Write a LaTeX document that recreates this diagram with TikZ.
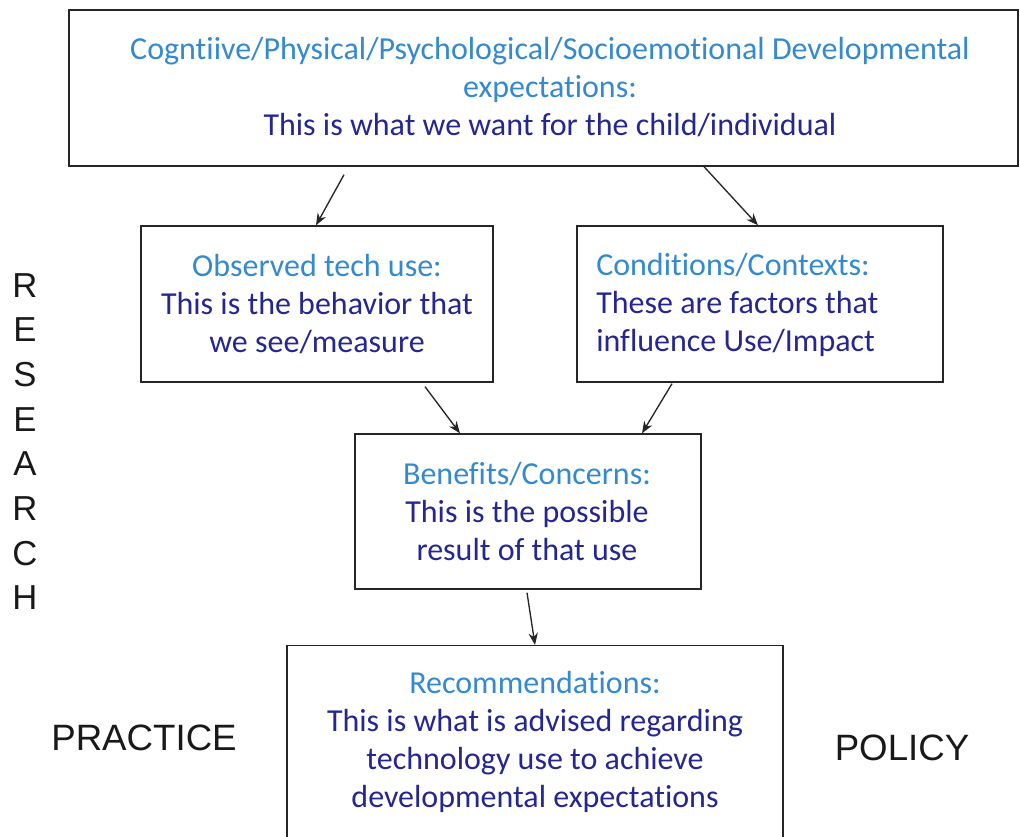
\documentclass[tikz,border=0pt]{standalone}
\usepackage{fontspec}
\setmainfont[Ligatures=NoCommon, Contextuals=NoAlternate, RawFeature={-clig;-dlig}]{Carlito}
\newfontfamily\labfont{Liberation Sans}
\usetikzlibrary{arrows.meta,calc}
\definecolor{lightb}{HTML}{3489CF}
\definecolor{darkb}{HTML}{262690}
\tikzset{
  box/.style={draw=black!85, line width=1pt, rectangle, inner sep=0pt},
  txt/.style={align=center, font=\fontsize{24}{28.5}\selectfont, text=darkb, inner sep=0pt},
  lab/.style={font=\labfont\fontsize{27.5}{30}\selectfont, text=black!90, inner sep=0pt},
  arr/.style={draw=black!85, line width=1pt, -{Stealth[length=9pt,width=7pt]}}
}
\begin{document}
\begin{tikzpicture}[x=0.75pt,y=-0.75pt]
\useasboundingbox[fill=white] (0,0) rectangle (1020,836);
\begin{scope}
\clip (0,0) rectangle (1020,836);
\node[box, minimum width=949*0.75pt, minimum height=156*0.75pt] (top) at (543.5,88) {};
\node[box, minimum width=352*0.75pt, minimum height=156*0.75pt] (obs) at (317,304) {};
\node[box, minimum width=366*0.75pt, minimum height=156*0.75pt] (cond) at (760,304) {};
\node[box, minimum width=346*0.75pt, minimum height=155*0.75pt] (ben) at (528,511.5) {};
\node[box, minimum width=496*0.75pt, minimum height=260*0.75pt, anchor=north] (rec) at (535,645) {};
\end{scope}

\node[txt] (toptext) at (550,87) {\textcolor{lightb}{Cogntiive/Physical/Psychological/Socioemotional Developmental}\\\textcolor{lightb}{expectations:}\\This is what we want for the child/individual};
\node[txt] (obstext) at (317,304.5) {\textcolor{lightb}{Observed tech use:}\\This is the behavior that\\we see/measure};
\node[txt, align=left, anchor=west] (condtext) at (596,304.5) {\textcolor{lightb}{Conditions/Contexts:}\\These are factors that\\influence Use/Impact};
\node[txt] (bentext) at (527,511) {\textcolor{lightb}{Benefits/Concerns:}\\This is the possible\\result of that use};
\node[txt] (rectext) at (535,741.5) {\textcolor{lightb}{Recommendations:}\\This is what is advised regarding\\technology use to achieve\\developmental expectations};

\node[lab, align=center, font=\labfont\fontsize{26}{33.5}\selectfont] (research) at (25,441.5) {R\\E\\S\\E\\A\\R\\C\\H};
\node[lab] (practice) at (144,738) {PRACTICE};
\node[lab] (policy) at (902,748) {POLICY};

\draw[arr] ($(top.south)+(-199.5,8)$) -- ($(obs.north)+(-1,0)$);
\draw[arr] ($(top.south)+(160.5,0)$) -- ($(cond.north)+(-2,0)$);
\draw[arr] ($(obs.south)+(108,4)$) -- ($(ben.north)+(-68,0)$);
\draw[arr] ($(cond.south)+(-88,1)$) -- ($(ben.north)+(114,0)$);
\draw[arr] ($(ben.south)+(-1,3)$) -- (rec.north);
\end{tikzpicture}
\end{document}
